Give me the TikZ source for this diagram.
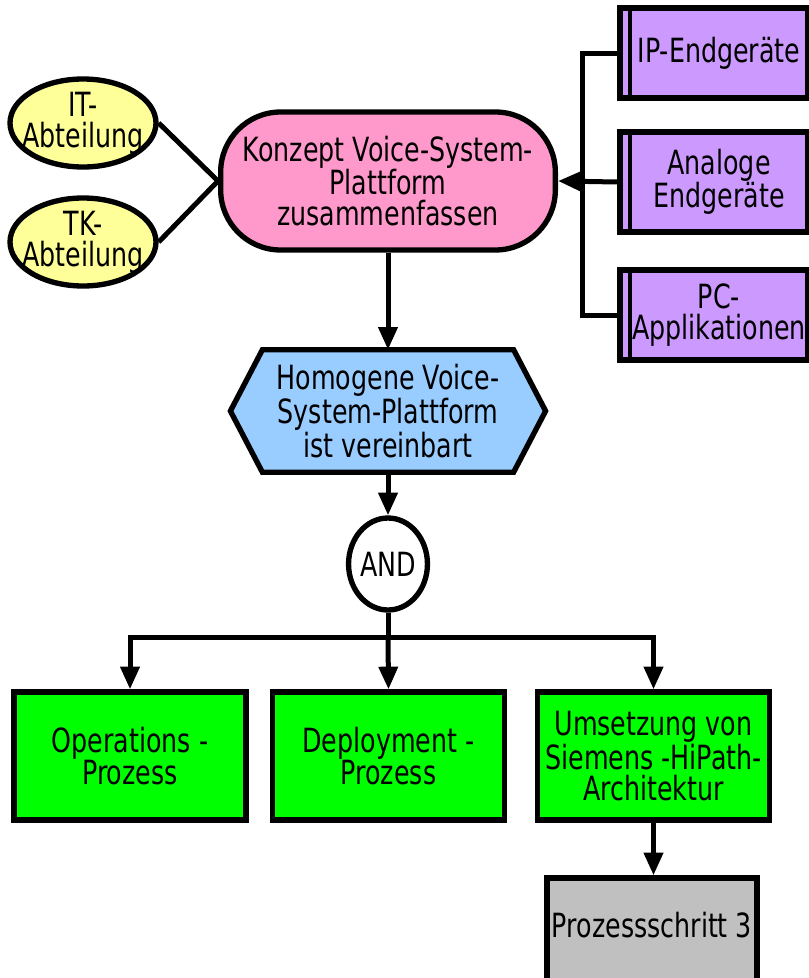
\documentclass[tikz,border=0pt]{standalone}
\usepackage{fontspec}
\setmainfont{DejaVu Sans}[FakeStretch=0.76]
\usetikzlibrary{arrows.meta,shapes.geometric,backgrounds,calc}

\definecolor{orgyellow}{HTML}{FFFF99}
\definecolor{funcpink}{HTML}{FF99CC}
\definecolor{eventblue}{HTML}{99CCFF}
\definecolor{sysviolet}{HTML}{CC99FF}
\definecolor{procgreen}{HTML}{00FF00}
\definecolor{stepgray}{HTML}{C0C0C0}

\tikzset{
  every node/.style={font=\fontsize{25}{23}\selectfont, align=center, inner sep=0pt},
  border/.style={draw=black, line width=4pt},
  orgunit/.style={border, ellipse, fill=orgyellow, inner xsep=-7.5pt, inner ysep=0pt,
    minimum width=109.5pt, minimum height=66pt},
  funcbox/.style={border, rectangle, rounded corners=45pt, fill=funcpink, minimum width=251pt, minimum height=103.5pt},
  eventbox/.style={rectangle, minimum width=236pt, minimum height=91.5pt},
  gate/.style={border, ellipse, fill=white, minimum width=59pt, minimum height=69pt},
  procbox/.style={border, rectangle, fill=procgreen, minimum width=174pt, minimum height=96pt},
  stepbox/.style={border, rectangle, fill=stepgray, minimum width=157.5pt, minimum height=84pt},
  sysbox/.style={border, rectangle, fill=sysviolet, minimum width=141pt,
    path picture={\draw[line width=3.5pt]
      ([xshift=7.5pt]path picture bounding box.north west) --
      ([xshift=7.5pt]path picture bounding box.south west);}},
  conn/.style={line width=3.75pt, draw=black},
  arr/.style={conn, -{Triangle[length=17pt,width=14pt]}},
}

\begin{document}
\begin{tikzpicture}[x=0.75pt, y=-0.75pt]
  \useasboundingbox (0,0) rectangle (809,978);

  % organisational units
  \node[orgunit] (it) at (83,123) {IT-\\Abteilung};
  \node[orgunit] (tk) at (83,242) {TK-\\Abteilung};

  % function
  \node[funcbox] (konz) at (388,181) {Konzept Voice-System-\\Plattform\\zusammenfassen};

  % event (hexagon drawn behind its text)
  \node[eventbox] (hom) at (388,411) {Homogene Voice-\\System-Plattform\\ist vereinbart};
  \begin{scope}[on background layer]
    \draw[border, fill=eventblue, line join=miter]
      ($(hom.north west)+(24pt,0)$) -- ($(hom.north east)+(-24pt,0)$) --
      (hom.east) -- ($(hom.south east)+(-24pt,0)$) --
      ($(hom.south west)+(24pt,0)$) -- (hom.west) -- cycle;
  \end{scope}

  % connector
  \node[gate] (and) at (388,564) {AND};

  % application systems
  \node[sysbox, minimum height=67.5pt] (ip) at (714,53) {\hspace*{7.5pt}IP-Endgeräte};
  \node[sysbox, minimum height=75pt] (ana) at (714,182) {\hspace*{7.5pt}Analoge\\\hspace*{7.5pt}Endgeräte};
  \node[sysbox, minimum height=67.5pt] (pc) at (714,315) {\hspace*{7.5pt}PC-\\\hspace*{7.5pt}Applikationen};

  % sub-processes
  \node[procbox] (ops) at (130,756) {Operations -\\Prozess};
  \node[procbox] (dep) at (388.5,756) {Deployment -\\Prozess};
  \node[procbox] (ums) at (653.5,756) {Umsetzung von\\Siemens -HiPath-\\Architektur};

  % following process step
  \node[stepbox] (p3) at (652,934) {};
  \node (p3text) at (652,925) {Prozessschritt 3};

  % connections
  \draw[conn] (it.east) -- (konz.west);
  \draw[conn] (tk.east) -- (konz.west);
  \draw[arr] (konz.south) -- (hom.north);
  \draw[arr] (hom.south) -- (and.north);

  \coordinate (sysbus) at (582,182);
  \draw[conn] (ip.west) -- (ip.west -| sysbus) -- (pc.west -| sysbus) -- (pc.west);
  \draw[arr] (ana.west) -- (konz.east);

  \coordinate (split) at (388,637);
  \draw[conn] (and.south) -- (split);
  \draw[arr] (split) -| (ops.north);
  \draw[arr] (split) -- (dep.north);
  \draw[arr] (split) -| (ums.north);
  \draw[arr] (ums.south) -- (ums.south |- p3.north);
\end{tikzpicture}
\end{document}
